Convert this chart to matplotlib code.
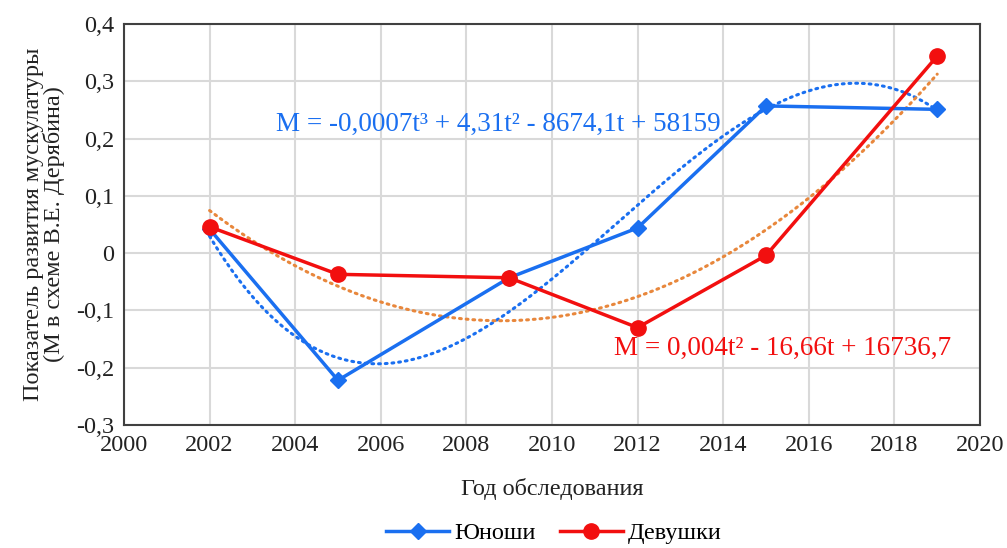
import matplotlib
matplotlib.use("Agg")
import matplotlib.pyplot as plt
import numpy as np

plt.rcParams['font.family'] = ['Liberation Serif', 'DejaVu Serif']

years = [2002, 2005, 2009, 2012, 2015, 2019]
boys = [0.042, -0.222, -0.043, 0.044, 0.257, 0.251]
girls = [0.046, -0.037, -0.043, -0.130, -0.004, 0.344]

blue = '#1a6ff0'
red = '#f20f0f'
orange = '#e8873c'

fig = plt.figure(figsize=(10.07, 5.48), dpi=100)
ax = fig.add_axes([0.1231, 0.2245, 0.8501, 0.7317])

# trend lines (polynomial fits, as in the spreadsheet)
t = np.linspace(2002, 2019, 200)
pb = np.polyfit(years, boys, 3)
pg = np.polyfit(years, girls, 2)
ax.plot(t, np.polyval(pb, t), color=blue, lw=2.2, ls=(0, (0.6, 1.6)), dash_capstyle='round', zorder=2)
ax.plot(t, np.polyval(pg, t), color=orange, lw=2.2, ls=(0, (0.6, 1.6)), dash_capstyle='round', zorder=2)

ax.plot(years, boys, color=blue, lw=2.5, marker='D', ms=8, label='Юноши', zorder=3)
ax.plot(years, girls, color=red, lw=2.5, marker='o', ms=11, label='Девушки', zorder=4)

ax.set_xlim(2000, 2020)
ax.set_ylim(-0.3, 0.4)
ax.set_xticks(range(2000, 2021, 2))
yt = np.round(np.arange(-0.3, 0.41, 0.1), 1)
ax.set_yticks(yt)
ax.set_yticklabels(['0' if v == 0 else f'{v:.1f}'.replace('.', ',') for v in yt])
ax.grid(True, color='#d9d9d9', lw=1.5)
ax.set_axisbelow(True)
ax.tick_params(length=0, labelsize=17.5, colors='#222222', pad=7)
for s in ax.spines.values():
    s.set_color('#404040')
    s.set_linewidth(1.5)

ax.set_xlabel('Год обследования', fontsize=17.5, color='#222222', labelpad=16)
ax.set_ylabel('Показатель развития мускулатуры\n(М в схеме В.Е. Дерябина)', fontsize=17.5,
              color='#222222', labelpad=8, linespacing=0.95)

ax.text(2003.55, 0.213, 'M = -0,0007t³ + 4,31t² - 8674,1t + 58159', color=blue, fontsize=19.5)
ax.text(2011.45, -0.178, 'M = 0,004t² - 16,66t + 16736,7', color=red, fontsize=19.5)

fig.legend(loc='lower center', bbox_to_anchor=(0.55, -0.033), ncol=2, frameon=False,
           fontsize=17.5, handlelength=2.6, columnspacing=1.0, handletextpad=0.2)

fig.savefig('out.png', dpi=100)
